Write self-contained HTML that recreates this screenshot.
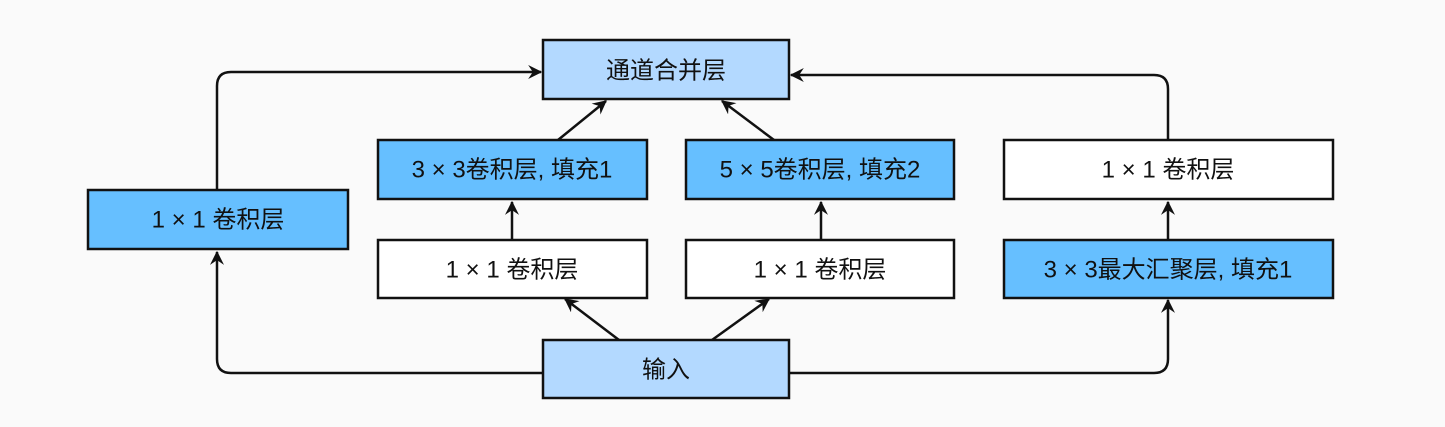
<!DOCTYPE html>
<html><head><meta charset="utf-8"><style>
html,body{margin:0;padding:0;background:#fafafa;}
svg text{font-family:"Liberation Sans","Noto Sans CJK SC",sans-serif;font-size:24px;fill:#111;text-anchor:middle;dominant-baseline:central;}
</style></head><body>
<svg width="1445" height="422" viewBox="0 0 1445 422" xmlns="http://www.w3.org/2000/svg">
<defs>
<marker id="b" viewBox="0 0 12 12" refX="11" refY="6" markerWidth="14" markerHeight="14" orient="auto" markerUnits="userSpaceOnUse"><path d="M0,0 L12,6 L0,12 L4,6 Z" fill="#111"/></marker></defs>
<g stroke="#111" stroke-width="2.5" fill="none">
<path d="M217,190 V86 Q217,72 231,72 H541" marker-end="url(#b)"/>
<path d="M543,373 H231 Q217,373 217,359 V252" marker-end="url(#b)"/>
<path d="M1168,140 V89 Q1168,75 1154,75 H791" marker-end="url(#b)"/>
<path d="M790,373 H1154 Q1168,373 1168,359 V300" marker-end="url(#b)"/>
<path d="M1168,240 V202" marker-end="url(#b)"/>
<path d="M512,240 V202" marker-end="url(#b)"/>
<path d="M821,240 V202" marker-end="url(#b)"/>
<path d="M558,140 L606,101" marker-end="url(#b)"/>
<path d="M774,140 L722,101" marker-end="url(#b)"/>
<path d="M619,340 L565,299" marker-end="url(#b)"/>
<path d="M712,340 L769,299" marker-end="url(#b)"/>
</g>
<g stroke="#111" stroke-width="2.5">
<rect x="543" y="40" width="246" height="59" fill="#b3d9ff"/>
<rect x="543" y="340" width="246" height="58" fill="#b3d9ff"/>
<rect x="88" y="190" width="260" height="59" fill="#66bfff"/>
<rect x="378" y="140" width="269" height="59" fill="#66bfff"/>
<rect x="686" y="140" width="268" height="59" fill="#66bfff"/>
<rect x="378" y="240" width="269" height="58" fill="#fff"/>
<rect x="686" y="240" width="268" height="58" fill="#fff"/>
<rect x="1004" y="140" width="329" height="59" fill="#fff"/>
<rect x="1004" y="240" width="329" height="58" fill="#66bfff"/>
</g>
<text x="666" y="71">通道合并层</text>
<text x="666" y="370">输入</text>
<text x="218" y="220">1 × 1 卷积层</text>
<text x="512" y="170">3 × 3卷积层, 填充1</text>
<text x="820" y="170">5 × 5卷积层, 填充2</text>
<text x="512" y="270">1 × 1 卷积层</text>
<text x="820" y="270">1 × 1 卷积层</text>
<text x="1168" y="170">1 × 1 卷积层</text>
<text x="1168" y="270">3 × 3最大汇聚层, 填充1</text>
</svg>
</body></html>
